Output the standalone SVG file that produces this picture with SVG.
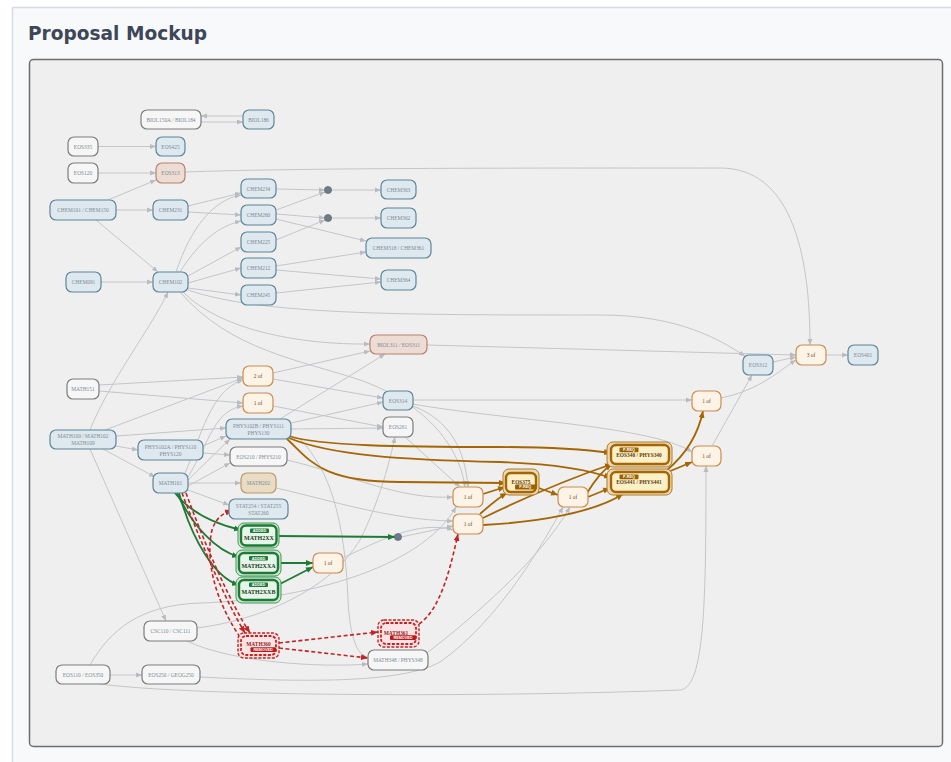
<svg xmlns="http://www.w3.org/2000/svg" width="951" height="762" viewBox="0 0 951 762">
<style>
.bl{fill:#dde8ef;stroke:#5d8598;stroke-width:1.2}
.wh{fill:#f6f6f6;stroke:#7c7c7c;stroke-width:1.2}
.pk{fill:#ecdcd4;stroke:#b7826e;stroke-width:1.2}
.tn{fill:#eadcc4;stroke:#b79a6b;stroke-width:1.2}
.or{fill:#fdf3e7;stroke:#cd8b4d;stroke-width:1.2}
.t{font-family:"Liberation Serif",serif;font-size:5.4px;fill:#7d8a94;text-anchor:middle;dominant-baseline:central}
.to{fill:#6b4a2a}
.e{fill:none;stroke:#c4c6ca;stroke-width:1;marker-end:url(#ag)}
.eo{fill:none;stroke:#a56500;stroke-width:1.8;marker-end:url(#ao)}
.eg{fill:none;stroke:#1f7a36;stroke-width:1.8;marker-end:url(#agr)}
.er{fill:none;stroke:#c42323;stroke-width:1.6;stroke-dasharray:4 2.5;marker-end:url(#ar)}
.gO{fill:#cde6d3;stroke:#3c9a55;stroke-width:1}
.gI{fill:#e5f5e8;stroke:#1e7a35;stroke-width:2.4}
.gB{fill:#1e7a35}
.oO{fill:#e9d8b6;stroke:#b27a22;stroke-width:1}
.oI{fill:#fdefc6;stroke:#a56500;stroke-width:2.4}
.oB{fill:#9a6000}
.rO{fill:#fbe3e3;stroke:#c42323;stroke-width:1.4;stroke-dasharray:3 1.5}
.rI{fill:#fde4e4;stroke:#c42323;stroke-width:1.8;stroke-dasharray:3 1.5}
.rB{fill:#b71c1c}
.bt{font-family:"Liberation Sans",sans-serif;font-size:3.8px;font-weight:bold;fill:#ffffff;text-anchor:middle;dominant-baseline:central}
.dot{fill:#6e7c87;stroke:#55626c;stroke-width:0.6}
</style>
<defs>
<marker id="ag" markerUnits="userSpaceOnUse" markerWidth="6" markerHeight="6" refX="6" refY="3" orient="auto"><path d="M0,0.5 L6,3 L0,5.5 z" fill="#b8bbc0"/></marker>
<marker id="ao" markerUnits="userSpaceOnUse" markerWidth="7" markerHeight="7" refX="7" refY="3.5" orient="auto"><path d="M0,0.5 L7,3.5 L0,6.5 z" fill="#a56500"/></marker>
<marker id="agr" markerUnits="userSpaceOnUse" markerWidth="7" markerHeight="7" refX="7" refY="3.5" orient="auto"><path d="M0,0.5 L7,3.5 L0,6.5 z" fill="#1f7a36"/></marker>
<marker id="ar" markerUnits="userSpaceOnUse" markerWidth="7" markerHeight="7" refX="7" refY="3.5" orient="auto"><path d="M0,0.5 L7,3.5 L0,6.5 z" fill="#c42323"/></marker>
</defs>
<rect x="12.5" y="7.5" width="950" height="770" fill="#f8f9fb" stroke="#d6dbe5" stroke-width="1.5"/>
<text x="28" y="40" font-family="DejaVu Sans,sans-serif" font-weight="bold" font-size="19" fill="#3d4758" textLength="179" lengthAdjust="spacingAndGlyphs">Proposal Mockup</text>
<rect x="29.5" y="59.5" width="913" height="687" rx="4" fill="#efefef" stroke="#6e6e6e" stroke-width="1.5"/>

<g id="connectors">
<path class="e" d="M243,116 L201,116"/>
<path class="e" d="M201,122 L243,122"/>
<path class="e" d="M98,146.5 L156,146.5"/>
<path class="e" d="M98,173 L156,173"/>
<path class="e" d="M108,200 L156,180"/>
<path class="e" d="M116,210 L153,210"/>
<path class="e" d="M96,220 L158,272"/>
<path class="e" d="M101,282 L153,282"/>
<path class="e" d="M188,206 L241,193"/>
<path class="e" d="M188,212 L241,215"/>
<path class="e" d="M176,272 C190,230 212,200 241,195"/>
<path class="e" d="M180,272 C200,240 220,226 241,221"/>
<path class="e" d="M188,276 L241,247"/>
<path class="e" d="M188,283 L241,268"/>
<path class="e" d="M188,288 L241,295"/>
<path class="e" d="M276,189 L325,190"/>
<path class="e" d="M276,210 L325,192"/>
<path class="e" d="M276,214 L325,218"/>
<path class="e" d="M276,240 L325,220"/>
<path class="e" d="M331,190 L381,190"/>
<path class="e" d="M331,218 L381,218"/>
<path class="e" d="M276,219 L366,241"/>
<path class="e" d="M276,266 L366,252"/>
<path class="e" d="M276,270 L381,279"/>
<path class="e" d="M276,293 L381,282"/>
<path class="e" d="M185,172 C300,168 500,168 720,168 C790,168 810,250 810,345"/>
<path class="e" d="M188,290 C260,315 400,315 600,315 C680,315 720,340 745,356"/>
<path class="e" d="M183,292 C220,330 300,345 370,344"/>
<path class="e" d="M427,345 L796,355"/>
<path class="e" d="M180,292 C230,350 300,360 360,380 C430,405 460,450 465,487"/>
<path class="e" d="M90,430 C110,380 150,330 168,292"/>
<path class="e" d="M105,430 L243,378"/>
<path class="e" d="M116,436 L226,428"/>
<path class="e" d="M116,446 L138,450"/>
<path class="e" d="M103,449 L155,477"/>
<path class="e" d="M90,449 L166,621"/>
<path class="e" d="M99,385 L243,377"/>
<path class="e" d="M99,391 L243,403"/>
<path class="e" d="M185,473 C200,440 210,390 243,380"/>
<path class="e" d="M188,477 C210,440 215,410 243,406"/>
<path class="e" d="M188,480 L230,439"/>
<path class="e" d="M188,486 L230,463"/>
<path class="e" d="M188,483 L241,483"/>
<path class="e" d="M188,490 L229,505"/>
<path class="e" d="M203,446 L226,436"/>
<path class="e" d="M203,453 L230,455"/>
<path class="e" d="M273,373 L370,351"/>
<path class="e" d="M273,379 L383,398"/>
<path class="e" d="M273,406 L383,427"/>
<path class="e" d="M280,419 L385,354"/>
<path class="e" d="M291,423 L383,402"/>
<path class="e" d="M291,429 L383,428"/>
<path class="e" d="M413,400 L692,400"/>
<path class="e" d="M413,404 C500,420 650,425 692,452"/>
<path class="e" d="M413,406 C450,420 465,450 468,487"/>
<path class="e" d="M405,437 L460,487"/>
<path class="e" d="M287,460 C350,475 400,500 453,497"/>
<path class="e" d="M276,488 C330,500 390,520 453,521"/>
<path class="e" d="M401,537 L453,526"/>
<path class="e" d="M343,558 C380,540 420,520 453,530"/>
<path class="e" d="M721,398 C760,390 780,370 796,360"/>
<path class="e" d="M773,362 L796,357"/>
<path class="e" d="M712,446 L752,375"/>
<path class="e" d="M826,355 L848,355"/>
<path class="e" d="M110,675 L142,675"/>
<path class="e" d="M90,665 C110,630 140,605 200,603 C300,600 420,570 456,507"/>
<path class="e" d="M100,684 C200,697 500,697 680,690 C705,688 706,600 706,466"/>
<path class="e" d="M200,677 C300,682 400,684 440,662 C500,620 545,540 563,507"/>
<path class="e" d="M197,628 C260,620 330,590 360,540 C380,500 390,460 395,437"/>
<path class="e" d="M187,641 C230,662 320,668 368,664"/>
<path class="e" d="M428,652 C470,620 540,560 570,507"/>
<path class="e" d="M300,439 C330,470 345,520 348,600 C350,640 358,655 368,658"/>

<path class="eo" d="M289,436 C320,446 400,447 500,447 C560,447 590,450 611,453"/>
<path class="eo" d="M289,438 C330,455 400,460 500,462 C560,464 590,470 611,478"/>
<path class="eo" d="M287,439 C310,460 320,482 400,482 L506,483"/>
<path class="eo" d="M483,494 L505,487"/>
<path class="eo" d="M480,514 C490,505 500,497 507,493"/>
<path class="eo" d="M483,518 C530,495 580,475 612,464"/>
<path class="eo" d="M483,525 C540,522 595,512 623,494"/>
<path class="eo" d="M536,487 L558,495"/>
<path class="eo" d="M587,493 C595,480 603,470 612,464"/>
<path class="eo" d="M588,497 L610,488"/>
<path class="eo" d="M667,470 C685,455 698,435 703,411"/>
<path class="eo" d="M668,472 L692,462"/>

<path class="eg" d="M175,493 C190,512 215,524 241,530"/>
<path class="eg" d="M177,493 C192,525 215,550 239,557"/>
<path class="eg" d="M179,493 C192,540 215,578 239,585"/>
<path class="eg" d="M277,536 L395,537"/>
<path class="eg" d="M278,563 L313,563"/>
<path class="eg" d="M278,585 L313,567"/>

<path class="er" d="M182,493 C200,540 225,600 245,633"/>
<path class="er" d="M186,493 C206,548 232,606 250,633"/>
<path class="er" d="M240,637 C215,600 205,560 212,530 C216,518 222,514 232,510"/>
<path class="er" d="M279,643 L378,632"/>
<path class="er" d="M279,648 L368,658"/>
<path class="er" d="M419,624 C440,610 450,570 458,534"/>
</g>

<g id="BIOL150A"><rect class="wh" x="141" y="110" width="60" height="19" rx="6"/><text class="t" x="171" y="119.5">BIOL150A / BIOL184</text></g>
<g id="BIOL186"><rect class="bl" x="243" y="110" width="31" height="19" rx="6"/><text class="t" x="258.5" y="119.5">BIOL186</text></g>
<g id="EOS335"><rect class="wh" x="68" y="137" width="30" height="19" rx="6"/><text class="t" x="83" y="146.5">EOS335</text></g>
<g id="EOS425"><rect class="bl" x="156" y="137" width="29" height="19" rx="6"/><text class="t" x="170.5" y="146.5">EOS425</text></g>
<g id="EOS120"><rect class="wh" x="68" y="163" width="30" height="20" rx="6"/><text class="t" x="83" y="173">EOS120</text></g>
<g id="EOS313"><rect class="pk" x="156" y="163" width="29" height="20" rx="6"/><text class="t" x="170.5" y="173">EOS313</text></g>
<g id="CHEM101"><rect class="bl" x="50" y="200" width="66" height="20" rx="6"/><text class="t" x="83" y="210">CHEM101 / CHEM150</text></g>
<g id="CHEM231"><rect class="bl" x="153" y="200" width="35" height="20" rx="6"/><text class="t" x="170.5" y="210">CHEM231</text></g>
<g id="CHEM234"><rect class="bl" x="241" y="179" width="35" height="19" rx="6"/><text class="t" x="258.5" y="188.5">CHEM234</text></g>
<g id="CHEM260"><rect class="bl" x="241" y="205" width="35" height="20" rx="6"/><text class="t" x="258.5" y="215">CHEM260</text></g>
<g id="CHEM225"><rect class="bl" x="241" y="232" width="35" height="20" rx="6"/><text class="t" x="258.5" y="242">CHEM225</text></g>
<g id="CHEM212"><rect class="bl" x="241" y="258" width="35" height="20" rx="6"/><text class="t" x="258.5" y="268">CHEM212</text></g>
<g id="CHEM245"><rect class="bl" x="241" y="285" width="35" height="20" rx="6"/><text class="t" x="258.5" y="295">CHEM245</text></g>
<g id="CHEM091"><rect class="bl" x="66" y="272" width="35" height="20" rx="6"/><text class="t" x="83.5" y="282">CHEM091</text></g>
<g id="CHEM102"><rect class="bl" x="153" y="272" width="35" height="20" rx="6"/><text class="t" x="170.5" y="282">CHEM102</text></g>
<g id="dot1"><circle class="dot" cx="328" cy="190" r="3.6"/></g>
<g id="dot2"><circle class="dot" cx="328" cy="218" r="3.6"/></g>
<g id="dot3"><circle class="dot" cx="398" cy="537" r="3.6"/></g>
<g id="CHEM363"><rect class="bl" x="381" y="180" width="35" height="19" rx="6"/><text class="t" x="398.5" y="189.5">CHEM363</text></g>
<g id="CHEM362"><rect class="bl" x="381" y="208" width="35" height="20" rx="6"/><text class="t" x="398.5" y="218">CHEM362</text></g>
<g id="CHEM318"><rect class="bl" x="366" y="238" width="65" height="20" rx="6"/><text class="t" x="398.5" y="248">CHEM318 / CHEM361</text></g>
<g id="CHEM364"><rect class="bl" x="381" y="270" width="35" height="20" rx="6"/><text class="t" x="398.5" y="280">CHEM364</text></g>
<g id="BIOL311"><rect class="pk" x="370" y="335" width="57" height="19" rx="6"/><text class="t" x="398.5" y="344.5">BIOL311 / EOS311</text></g>
<g id="EOS312"><rect class="bl" x="743" y="355" width="30" height="20" rx="6"/><text class="t" x="758" y="365">EOS312</text></g>
<g id="of3"><rect class="or" x="796" y="345" width="30" height="20" rx="6"/><text class="t to" x="811" y="355">3 of</text></g>
<g id="EOS401"><rect class="bl" x="848" y="345" width="30" height="20" rx="6"/><text class="t" x="863" y="355">EOS401</text></g>
<g id="MATH151"><rect class="wh" x="67" y="379" width="32" height="20" rx="6"/><text class="t" x="83" y="389">MATH151</text></g>
<g id="of2"><rect class="or" x="243" y="366" width="30" height="20" rx="6"/><text class="t to" x="258" y="376">2 of</text></g>
<g id="of1L"><rect class="or" x="243" y="393" width="30" height="20" rx="6"/><text class="t to" x="258" y="403">1 of</text></g>
<g id="MATH100"><rect class="bl" x="50" y="430" width="66" height="19" rx="6"/><text class="t" x="83" y="436">MATH100 / MATH102</text><text class="t" x="83" y="443">MATH109</text></g>
<g id="PHYS102B"><rect class="bl" x="226" y="419" width="65" height="20" rx="6"/><text class="t" x="258.5" y="425.5">PHYS102B / PHYS111</text><text class="t" x="258.5" y="432.5">PHYS130</text></g>
<g id="PHYS102A"><rect class="bl" x="138" y="440" width="65" height="20" rx="6"/><text class="t" x="170.5" y="446.5">PHYS102A / PHYS110</text><text class="t" x="170.5" y="453.5">PHYS120</text></g>
<g id="EOS210"><rect class="wh" x="230" y="447" width="57" height="19" rx="6"/><text class="t" x="258.5" y="456.5">EOS210 / PHYS210</text></g>
<g id="MATH101"><rect class="bl" x="153" y="473" width="35" height="20" rx="6"/><text class="t" x="170.5" y="483">MATH101</text></g>
<g id="MATH202"><rect class="tn" x="241" y="473" width="35" height="20" rx="6"/><text class="t" x="258.5" y="483">MATH202</text></g>
<g id="EOS314"><rect class="bl" x="383" y="391" width="30" height="19" rx="6"/><text class="t" x="398" y="400.5">EOS314</text></g>
<g id="EOS261"><rect class="wh" x="383" y="417" width="30" height="20" rx="6"/><text class="t" x="398" y="427">EOS261</text></g>
<g id="of1A"><rect class="or" x="453" y="487" width="30" height="20" rx="6"/><text class="t to" x="468" y="497">1 of</text></g>
<g id="of1B"><rect class="or" x="453" y="514" width="30" height="20" rx="6"/><text class="t to" x="468" y="524">1 of</text></g>
<g id="EOS375"><rect class="oO" x="503" y="469" width="36" height="26" rx="6"/><rect class="oI" x="506" y="473" width="30" height="19" rx="5"/><text class="t" x="521" y="481.5" style="fill:#5a3c10;font-weight:bold">EOS375</text><rect class="oB" x="515" y="484.5" width="20.5" height="5" rx="1"/><text class="bt" x="525.2" y="487">P-REQ</text></g>
<g id="of1C"><rect class="or" x="558" y="487" width="30" height="20" rx="6"/><text class="t to" x="573" y="497">1 of</text></g>
<g id="PHYS340"><rect class="oO" x="607" y="442" width="65" height="25" rx="6"/><rect class="oI" x="611" y="445" width="58" height="19" rx="5"/><rect class="oB" x="619.5" y="447.5" width="19" height="4.8" rx="1"/><text class="bt" x="629" y="450">P-REQ</text><text class="t" x="639" y="455" style="fill:#5a3c10;font-weight:bold">EOS340 / PHYS340</text></g>
<g id="PHYS441"><rect class="oO" x="607" y="469" width="65" height="26" rx="6"/><rect class="oI" x="611" y="472" width="58" height="20" rx="5"/><rect class="oB" x="619.5" y="474.5" width="19" height="4.8" rx="1"/><text class="bt" x="629" y="477">P-REQ</text><text class="t" x="639" y="482" style="fill:#5a3c10;font-weight:bold">EOS441 / PHYS441</text></g>
<g id="of1D"><rect class="or" x="692" y="446" width="29" height="20" rx="6"/><text class="t to" x="706.5" y="456">1 of</text></g>
<g id="of1E"><rect class="or" x="692" y="391" width="29" height="20" rx="6"/><text class="t to" x="706.5" y="401">1 of</text></g>
<g id="STAT254"><rect class="bl" x="229" y="499" width="59" height="20" rx="6"/><text class="t" x="258.5" y="505.5">STAT254 / STAT255</text><text class="t" x="258.5" y="512.5">STAT260</text></g>
<g id="MATH2XX"><rect class="gO" x="238" y="523" width="41" height="25" rx="6"/><rect class="gI" x="241" y="525.5" width="35.5" height="20" rx="5"/><rect class="gB" x="250" y="528.5" width="19" height="4.6" rx="1"/><text class="bt" x="259.5" y="531">ADDED</text><text class="t" x="259" y="538" style="fill:#1c3b24;font-weight:bold;font-size:6px">MATH2XX</text></g>
<g id="MATH2XXA"><rect class="gO" x="236" y="550" width="45" height="26" rx="6"/><rect class="gI" x="239" y="553" width="39" height="20" rx="5"/><rect class="gB" x="249" y="556" width="19" height="4.6" rx="1"/><text class="bt" x="258.5" y="558.5">ADDED</text><text class="t" x="258.5" y="565.5" style="fill:#1c3b24;font-weight:bold;font-size:6px">MATH2XXA</text></g>
<g id="MATH2XXB"><rect class="gO" x="236" y="577" width="45" height="26" rx="6"/><rect class="gI" x="239" y="580" width="39" height="20" rx="5"/><rect class="gB" x="249" y="582.5" width="19" height="4.6" rx="1"/><text class="bt" x="258.5" y="585">ADDED</text><text class="t" x="258.5" y="592" style="fill:#1c3b24;font-weight:bold;font-size:6px">MATH2XXB</text></g>
<g id="of1F"><rect class="or" x="313" y="553" width="30" height="20" rx="6"/><text class="t to" x="328" y="563">1 of</text></g>
<g id="CSC110"><rect class="wh" x="144" y="621" width="53" height="20" rx="6"/><text class="t" x="170.5" y="631">CSC110 / CSC111</text></g>
<g id="MATH360"><rect class="rO" x="238" y="633" width="41" height="25" rx="6"/><rect class="rI" x="241" y="636" width="35" height="19" rx="5"/><text class="t" x="258.5" y="644" style="fill:#8a1f1f;font-weight:bold">MATH360</text><rect class="rB" x="250.5" y="647.3" width="25.5" height="4.6" rx="1"/><text class="bt" x="263.2" y="649.7">REMOVED</text></g>
<g id="MATH361"><rect class="rO" x="378" y="620" width="41" height="27" rx="6"/><rect class="rI" x="381" y="623" width="35" height="21" rx="5"/><text class="t" x="396" y="632.5" style="fill:#8a1f1f;font-weight:bold">MATH361</text><rect class="rB" x="390" y="635.3" width="26" height="4.7" rx="1"/><text class="bt" x="403" y="637.7">REMOVED</text></g>
<g id="MATH348"><rect class="wh" x="368" y="650" width="60" height="20" rx="6"/><text class="t" x="398" y="660">MATH348 / PHYS348</text></g>
<g id="EOS110"><rect class="wh" x="56" y="665" width="54" height="19" rx="6"/><text class="t" x="83" y="674.5">EOS110 / EOS350</text></g>
<g id="EOS250"><rect class="wh" x="142" y="665" width="58" height="19" rx="6"/><text class="t" x="171" y="674.5">EOS250 / GEOG250</text></g>
</svg>
